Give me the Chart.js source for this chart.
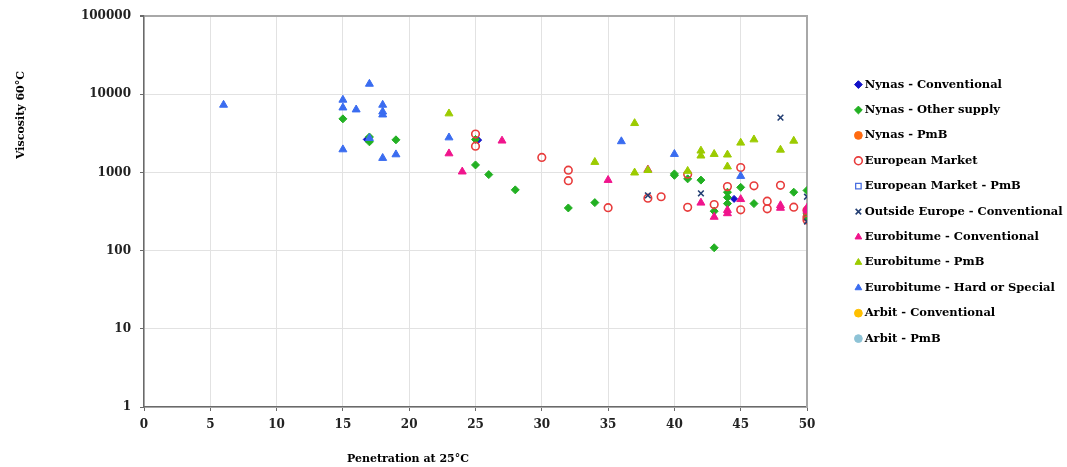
<!DOCTYPE html>
<html>
<head>
<meta charset="utf-8">
<script src="https://cdn.jsdelivr.net/npm/chart.js@4.4.1/dist/chart.umd.min.js"></script>
<style>
html,body{margin:0;padding:0;background:#fff;}
#wrap{width:1067px;height:467px;position:relative;}
</style>
</head>
<body>
<div id="wrap"><canvas id="c" width="1067" height="467"></canvas></div>
<script>
// ---- data (penetration at 25°C, viscosity at 60°C) ----
const xTitle = "Penetration at 25°C";
const yTitle = "Viscosity 60°C";
const xTickValues = [0, 5, 10, 15, 20, 25, 30, 35, 40, 45, 50];
const yTickValues = [1, 10, 100, 1000, 10000, 100000];

const seriesNames = [
  "Nynas - Conventional",
  "Nynas - Other supply",
  "Nynas - PmB",
  "European Market",
  "European Market - PmB",
  "Outside Europe - Conventional",
  "Eurobitume - Conventional",
  "Eurobitume - PmB",
  "Eurobitume - Hard or Special",
  "Arbit - Conventional",
  "Arbit - PmB"
];

const nynasConventional = [[16.8, 2650], [25.2, 2600], [44.5, 460]];
const nynasOtherSupply = [
  [15, 4860], [17, 2850], [17, 2470], [19, 2620], [25, 2650], [25, 1250], [26, 940], [28, 600],
  [32, 352], [34, 412], [40, 960], [40, 920], [41, 830], [42, 800], [43, 109], [43, 320],
  [44, 560], [44, 480], [44, 400], [45, 646], [46, 400], [49, 560], [50, 590], [50, 296], [50, 270]
];
const nynasPmB = [];
const europeanMarket = [
  [25, 3100], [25, 2170], [30, 1560], [32, 1070], [32, 786], [35, 355], [38, 470], [39, 490],
  [41, 359], [41, 950], [43, 389], [44, 660], [45, 1160], [45, 333], [46, 675], [47, 430],
  [47, 343], [48, 685], [49, 360], [50, 330], [50, 267], [50, 247]
];
const europeanMarketPmB = [];
const outsideEuropeConventional = [[38, 510], [42, 541], [48, 5040], [50, 490], [50, 236]];
const eurobitumeConventional = [
  [23, 1750], [24, 1025], [27, 2550], [35, 800], [38, 1090], [42, 410], [43, 270], [44, 330],
  [44, 300], [45, 455], [48, 380], [48, 352], [50, 352], [50, 325]
];
const eurobitumePmB = [
  [23, 5680], [34, 1360], [37, 4270], [37, 995], [38, 1070], [41, 1045], [42, 1900], [42, 1640],
  [43, 1720], [44, 1690], [44, 1190], [45, 2400], [46, 2640], [48, 1950], [49, 2540]
];
const eurobitumeHard = [
  [6, 7330], [15, 8500], [15, 6760], [15, 1970], [16, 6380], [17, 13600], [17, 2750], [18, 7330],
  [18, 6000], [18, 5500], [18, 1530], [19, 1700], [23, 2800], [36, 2500], [40, 1720], [45, 900]
];
const arbitConventional = [];
const arbitPmB = [];

const seriesValues = [
  nynasConventional, nynasOtherSupply, nynasPmB, europeanMarket, europeanMarketPmB,
  outsideEuropeConventional, eurobitumeConventional, eurobitumePmB, eurobitumeHard,
  arbitConventional, arbitPmB
];

// ---- styles ----
const seriesStyles = [
  {shape: 'rectRot', color: '#1212C8', fill: '#1212C8', r: 3.5, bw: 1},
  {shape: 'rectRot', color: '#22B022', fill: '#22B022', r: 4, bw: 1},
  {shape: 'circle', color: '#FF6A10', fill: '#FF6A10', r: 4, bw: 1},
  {shape: 'circle', color: '#E83C3C', fill: 'rgba(255,255,255,0)', r: 3.8, bw: 1.6},
  {shape: 'rect', color: '#4A6FE0', fill: 'rgba(255,255,255,0)', r: 4, bw: 1.3},
  {shape: 'crossRot', color: '#243F73', fill: '#243F73', r: 4, bw: 1.6},
  {shape: 'triangle', color: '#F0148C', fill: '#F0148C', r: 4.6, bw: 1},
  {shape: 'triangle', color: '#9CCB00', fill: '#9CCB00', r: 4.6, bw: 1},
  {shape: 'triangle', color: '#3A6CF0', fill: '#3A6CF0', r: 4.6, bw: 1},
  {shape: 'circle', color: '#FFC000', fill: '#FFC000', r: 4, bw: 1},
  {shape: 'circle', color: '#8EC3D6', fill: '#8EC3D6', r: 4, bw: 1}
];

const N = seriesNames.length;
const datasets = seriesNames.map((name, i) => ({
  label: name,
  data: seriesValues[i].map(p => ({x: p[0], y: p[1]})),
  pointStyle: seriesStyles[i].shape,
  borderColor: seriesStyles[i].color,
  backgroundColor: seriesStyles[i].fill,
  pointRadius: seriesStyles[i].r,
  pointBorderWidth: seriesStyles[i].bw,
  pointHoverRadius: seriesStyles[i].r,
  showLine: false,
  order: N - i
}));

const FONT = "'DejaVu Serif', serif";
const AXIS_COLOR = '#6A6A6A';
const BOX_COLOR = '#A8A8A8';
const GRID_COLOR = '#E2E2E2';

const titlesPlugin = {
  id: 'axisTitles',
  afterDraw(chart) {
    const ctx = chart.ctx;
    ctx.save();
    ctx.fillStyle = '#000';
    ctx.font = "bold 11px " + FONT;
    ctx.textAlign = 'center';
    ctx.textBaseline = 'middle';
    ctx.fillText(xTitle, 408, 459);
    ctx.translate(21, 115);
    ctx.rotate(-Math.PI / 2);
    ctx.fillText(yTitle, 0, 0);
    ctx.restore();
  }
};

new Chart(document.getElementById('c'), {
  type: 'scatter',
  data: {datasets},
  options: {
    responsive: false,
    animation: false,
    devicePixelRatio: 1,
    events: [],
    layout: {padding: {top: 15, left: 0, right: 0, bottom: 0}},
    plugins: {
      tooltip: {enabled: false},
      legend: {
        position: 'right',
        fullSize: false,
        align: 'center',
        maxWidth: 223,
        labels: {
          usePointStyle: true,
          boxWidth: 1,
          boxHeight: 5.5,
          padding: 13.9,
          color: '#000',
          font: {family: FONT, size: 11.5, weight: 'bold'},
          sort: (a, b) => a.datasetIndex - b.datasetIndex
        }
      }
    },
    scales: {
      x: {
        type: 'linear',
        position: 'bottom',
        min: 0, max: 50,
        afterBuildTicks: s => { s.ticks = xTickValues.map(v => ({value: v})); },
        afterFit: s => { s.height = 60; },
        border: {color: AXIS_COLOR, width: 1.5},
        grid: {
          color: c => (c.tick && c.tick.value === 50) ? BOX_COLOR : GRID_COLOR,
          lineWidth: 1,
          tickLength: 4,
          tickColor: AXIS_COLOR
        },
        ticks: {
          color: '#222',
          padding: 7,
          maxRotation: 0,
          font: {family: FONT, size: 12, weight: 'bold'}
        }
      },
      y: {
        type: 'logarithmic',
        position: 'left',
        min: 1, max: 100000,
        afterBuildTicks: s => { s.ticks = yTickValues.map(v => ({value: v})); },
        afterFit: s => { s.width = 144; },
        border: {color: AXIS_COLOR, width: 1.5},
        grid: {
          color: c => (c.tick && c.tick.value === 100000) ? BOX_COLOR : GRID_COLOR,
          lineWidth: c => (c.tick && c.tick.value === 100000) ? 2 : 1,
          tickLength: 4,
          tickColor: AXIS_COLOR
        },
        ticks: {
          color: '#222',
          padding: 9,
          callback: v => String(v),
          font: {family: FONT, size: 12, weight: 'bold'}
        }
      },
      y2: {
        type: 'logarithmic',
        position: 'right',
        min: 1, max: 100000,
        afterFit: s => { s.width = 37; },
        border: {color: BOX_COLOR, width: 2},
        grid: {drawOnChartArea: false, drawTicks: false},
        ticks: {display: false}
      }
    }
  },
  plugins: [titlesPlugin]
});
</script>
</body>
</html>
